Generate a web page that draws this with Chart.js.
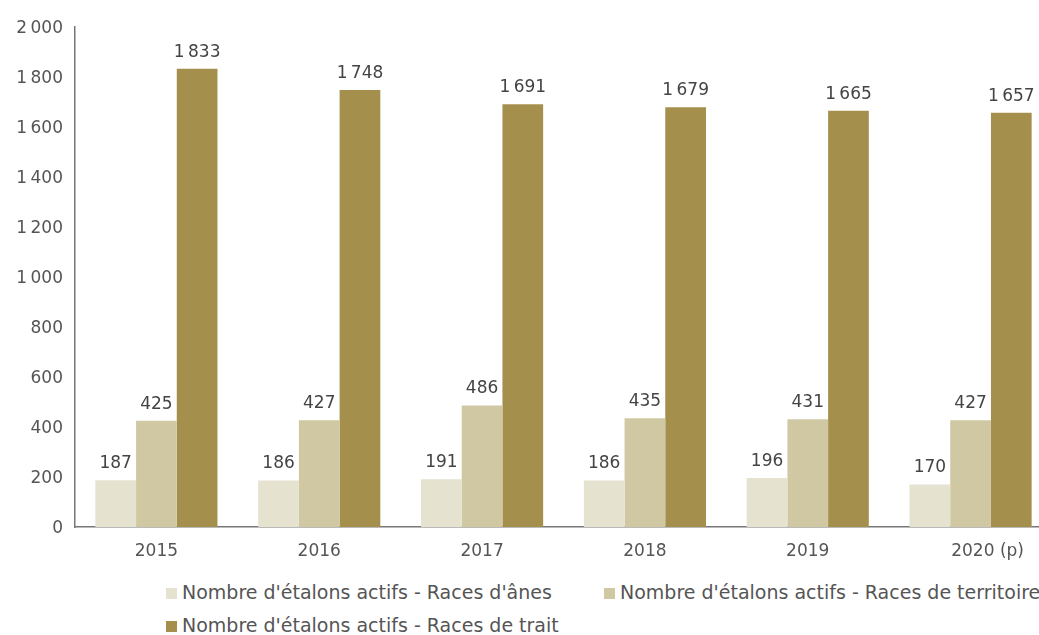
<!DOCTYPE html>
<html><head><meta charset="utf-8">
<script src="https://cdn.jsdelivr.net/npm/chart.js@4"></script>
<style>
html,body{margin:0;padding:0;background:#fff;overflow:hidden;width:1039px;height:635px;}
#wrap{position:absolute;left:0;top:0;width:1052px;height:565px;}
#legend{position:absolute;left:0;top:565px;width:1100px;font-family:"DejaVu Sans",sans-serif;font-size:19px;color:#555;}
.li{position:absolute;white-space:nowrap;line-height:22px;}
.bx{display:inline-block;width:11px;height:11px;margin-right:5px;vertical-align:0px;}
</style></head>
<body>
<div id="wrap"><canvas id="c"></canvas></div>
<div id="legend"></div>
<script>
const categories = ["2015","2016","2017","2018","2019","2020 (p)"];
const seriesNames = ["Nombre d'étalons actifs - Races d'ânes","Nombre d'étalons actifs - Races de territoire","Nombre d'étalons actifs - Races de trait"];
const anes = [187,186,191,186,196,170];
const territoire = [425,427,486,435,431,427];
const trait = [1833,1748,1691,1679,1665,1657];
const colors = ["#e5e2cf","#d0c8a2","#a4904c"];
const yTicks = [0,200,400,600,800,1000,1200,1400,1600,1800,2000];

const fmt = v => String(v).replace(/\B(?=(\d{3})+(?!\d))/g, "\u2009");
const FONT = '"DejaVu Sans", sans-serif';

const labelPlugin = {
  id:'vals',
  afterDatasetsDraw(chart){
    const ctx = chart.ctx;
    ctx.save();
    ctx.font = '17px ' + FONT;
    ctx.fillStyle = '#444';
    ctx.textAlign = 'center';
    ctx.textBaseline = 'bottom';
    chart.data.datasets.forEach((ds,i)=>{
      chart.getDatasetMeta(i).data.forEach((bar,j)=>{
        ctx.fillText(fmt(ds.data[j]), bar.x, bar.y - 8);
      });
    });
    ctx.restore();
  }
};

new Chart(document.getElementById('c'), {
  type:'bar',
  data:{
    labels: categories,
    datasets:[
      {label:seriesNames[0], data:anes, backgroundColor:colors[0]},
      {label:seriesNames[1], data:territoire, backgroundColor:colors[1]},
      {label:seriesNames[2], data:trait, backgroundColor:colors[2]}
    ]
  },
  options:{
    responsive:true, maintainAspectRatio:false, animation:false,
    layout:{padding:{top:27,right:0,left:0,bottom:0}},
    datasets:{bar:{categoryPercentage:0.75, barPercentage:1.0}},
    plugins:{legend:{display:false}, tooltip:{enabled:false}},
    scales:{
      x:{
        grid:{display:false, drawTicks:false},
        border:{color:'#777', width:1.5},
        ticks:{color:'#555', font:{family:FONT, size:17}, padding:14,
          callback(v,i){ const l = categories[i]; return i === categories.length-1 ? "\u2003\u2003" + l : l; }},
        afterFit(s){ s.height = 38; }
      },
      y:{
        min:0, max:2000,
        afterBuildTicks(s){ s.ticks = yTicks.map(v=>({value:v})); },
        grid:{display:false, drawTicks:false},
        border:{color:'#777', width:1.5},
        ticks:{color:'#555', font:{family:FONT, size:17}, padding:12, labelOffset:2, callback:v=>fmt(v)},
        afterFit(s){ s.width = 75; }
      }
    }
  },
  plugins:[labelPlugin]
});

const leg = document.getElementById('legend');
const pos = [[166,27],[604,27],[166,60]];
seriesNames.forEach((n,i)=>{
  const d = document.createElement('div');
  d.className='li';
  d.style.left = pos[i][0]+'px';
  d.style.top = (pos[i][1]-11)+'px';
  d.innerHTML = '<span class="bx" style="background:'+colors[i]+'"></span>'+n;
  leg.appendChild(d);
});
</script>
</body></html>
